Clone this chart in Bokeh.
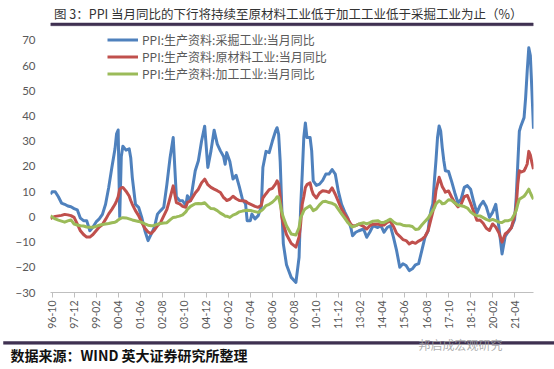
import math
from bokeh.plotting import figure
from bokeh.layouts import column
from bokeh.models import Range1d, FixedTicker, Legend, LegendItem
from bokeh.core.properties import value
from bokeh.embed import file_html
from bokeh.resources import INLINE

# months since 1996-10
month_offset = [-1, 0, 2, 4, 6, 8, 10, 12, 14, 16, 18, 20, 22, 24, 26, 28, 30, 32, 34, 36, 38, 40, 41, 42, 43, 44, 45, 47,
                49, 50, 51, 53, 55, 57, 59, 61, 63, 65, 67, 69, 71, 73, 75, 77, 79, 81, 83, 85, 86, 88, 91, 93, 95, 97, 99,
                101, 103, 105, 107, 109, 110, 111, 113, 115, 117, 119, 121, 123, 124, 126, 127, 129, 131, 133, 134, 136,
                138, 140, 142, 143, 144, 145, 146, 147, 149, 152, 155, 157, 158, 159, 160, 161, 162, 164, 165, 166, 168,
                170, 172, 174, 176, 178, 180, 182, 184, 186, 188, 190, 191, 193, 195, 198, 200, 202, 204, 207, 209, 211,
                213, 215, 217, 219, 221, 223, 225, 227, 229, 231, 233, 235, 237, 239, 240, 241, 242, 243, 244, 245, 246,
                247, 248, 249, 250, 252, 254, 256, 258, 260, 262, 264, 266, 268, 270, 272, 274, 276, 278, 280, 282, 284,
                286, 288, 290, 292, 294, 295, 296, 297, 298, 300, 301, 302, 303, 304, 305, 306]

mining = [9, 10, 10, 8, 5.5, 5, 4.3, 4, 3.3, 2.8, -0.5, -1.5, -1.5, -5.5, -4, -2, -0.8, 1, 5, 11.7, 19.6, 27, 33, 34.5,
          0, 24, 28, 26.5, 27, 23.5, 15.6, 5, 3.8, -0.2, -5.5, -9.4, -6.8, -4.2, 1.1, 2.5, 3.8, 13, 23.5, 31.5, 8, 6.5,
          6.4, 4.4, 8.4, 6.4, 18.3, 22.3, 30, 36, 19.6, 26.2, 34.4, 28.9, 26.2, 24, 20.9, 25.5, 22, 15, 16.5, 12, 7,
          5.1, -1.5, -1.5, 1.1, -0.8, 0.5, 4, 19.6, 26, 25.5, 30, 34, 35.4, 32.8, 22, 3.8, -10.7, -19, -24, -26, -16,
          3.8, 17, 31.5, 37.3, 31.5, 31.5, 26.3, 14.3, 12.5, 13, 14.5, 17, 17, 18.8, 17, 10, 5, 2, -0.5, -4.5, -7.5,
          -6.1, -5.5, -4.8, -8.1, -6, -3.5, -4.2, -3.5, -6.1, -4.2, -3.5, -8.1, -13.4, -20, -18.6, -19.3, -21.3, -20.6,
          -19, -18.5, -13.4, -8.1, -5.5, -0.2, 3, 5.1, 14.3, 22.3, 31.5, 36.1, 34.1, 27.5, 22.3, 18.3, 18, 14, 9.5, 5.5,
          7, 11.7, 12.4, 11, 6, 1.5, 4.5, 6.2, 4, -0.2, 1.8, 5, -4, -14.7, -7.8, -5.8, -4.2, -1, 7.7, 20.9, 34, 36.1,
          39.4, 47.3, 57.9, 67.1, 64, 50, 35]

raw_material = [-0.8, -0.3, 0.2, 0.4, 0.6, 1.0, 0.8, 0.5, -0.2, -2.8, -5.5, -7, -8, -8, -7, -5.5, -4, -3, -1, 1.2, 3,
                5, 6.4, 8, 11, 11.5, 11.7, 10.2, 8.3, 6.5, 5, 2.5, 0.5, -2.2, -4.5, -6, -6.6, -5.3, -3.5, -2.2, 0.4, 3,
                7.5, 12.3, 5.7, 5.2, 4.2, 3.8, 5.7, 6.4, 9.5, 11, 13.5, 15, 12.8, 11.7, 11, 10.4, 9.7, 7.7, 7.2, 6.5,
                7, 8.2, 7.2, 6.5, 6.4, 6.2, 5.7, 5.1, 4.8, 4.2, 3.8, 4.6, 7.5, 9.2, 10.8, 11.3, 13, 14.3, 13.2, 8, 0,
                -2.8, -7, -10.5, -12, -8, -2.8, 5, 8, 11.7, 12.8, 13.5, 10.8, 9, 7.5, 9.5, 10.4, 10.2, 9.7, 11.5, 9, 6,
                3.1, 1, -0.8, -3, -3.5, -3.5, -2.9, -3.8, -4.8, -3.5, -2.9, -2.8, -3.3, -3.2, -2.2, -1.7, -3.8, -6.5,
                -7.7, -9, -9.4, -10.7, -10, -10.5, -9.6, -8.9, -7.8, -5.5, -3, -0.5, 2, 5, 10.4, 13, 15.7, 14, 12, 11,
                9.8, 10.3, 7.8, 5.6, 4, 5, 8, 8.5, 5.5, 2, -1.3, -1.2, -2.5, -4.5, -5.4, -2.8, -4, -6.3, -10, -6.8,
                -5.8, -4.2, 0.5, 4, 13, 18.3, 17.8, 18.3, 19.5, 21, 26, 24.5, 21.5, 19]

processing = [0.5, 0, -0.8, -1.3, -1.7, -2.1, -1.6, -1.2, -2.8, -3.2, -3.5, -3.6, -4, -4.1, -4.1, -3.8, -3.3, -3, -2.8,
              -2.6, -2.3, -2.1, -1.8, -1.2, -0.8, -0.5, -0.3, -0.4, -0.8, -1, -1.2, -1.5, -1.8, -2.2, -2.8, -3.3, -3.5,
              -3.4, -2.9, -2.6, -2.4, -2.3, -1.2, -0.2, 0, 0.3, 0.8, 2, 3, 4.2, 5.2, 5.3, 5.2, 5.6, 4.3, 3.3, 3.2, 2.5,
              1.5, 0.8, 0.3, 0.3, -0.2, 0.7, 1.2, 2, 2.3, 2.5, 2.6, 2.5, 2.4, 2.1, 1.8, 2.5, 3, 4.5, 5, 5.8, 7, 8, 7.8,
              5, 2, -0.2, -3.5, -6.8, -7.2, -4.2, -0.2, 1, 2.5, 3.2, 3.6, 4.4, 3.5, 2.5, 3.2, 4.8, 6, 6.2, 5.7, 5.4,
              4.8, 3, 1.2, -0.5, -2.3, -3.5, -4, -3.5, -2.8, -2.3, -2.8, -2.3, -1.7, -1.5, -2.2, -2.2, -1.6, -0.9, -2,
              -2.7, -2.8, -3.3, -3.5, -3.5, -3.8, -5, -4.8, -3.2, -1.8, -0.5, 0.5, 1.5, 2.6, 3.5, 5.1, 5.8, 6.4, 6,
              5.2, 5.3, 5.6, 6.8, 6.6, 5.5, 4.6, 4.4, 4.1, 3.5, 2, 1.0, 0.5, 0.4, -0.3, -1.0, -1.5, -1.0, -1.5, -2.1,
              -2.2, -1.5, -1.5, -1.0, 1.2, 2.5, 5, 7, 7.4, 8.2, 9, 10, 11, 9.5, 8.2, 7]

series_names = ["PPI:生产资料:采掘工业:当月同比",
                "PPI:生产资料:原材料工业:当月同比",
                "PPI:生产资料:加工工业:当月同比"]
series_colors = ["#4F81BD", "#C0504D", "#9BBB59"]

tick_months = [0, 14, 28, 42, 56, 70, 84, 98, 112, 126, 140, 154, 168, 182, 196, 210, 224, 238, 252, 266, 280, 294]
tick_labels = ["96-10", "97-12", "99-02", "00-04", "01-06", "02-08", "03-10", "04-12", "06-02", "07-04", "08-06",
               "09-08", "10-10", "11-12", "13-02", "14-04", "15-06", "16-08", "17-10", "18-12", "20-02", "21-04"]
y_ticks = [-30, -20, -10, 0, 10, 20, 30, 40, 50, 60, 70]

title_text = "图 3：PPI 当月同比的下行将持续至原材料工业低于加工工业低于采掘工业为止（%）"
source_text = "数据来源：WIND  英大证券研究所整理"
mark_text = "邦启成宏观研究"

W = 554
CJK_NAME = "Noto Sans CJK SC"
CJK = value(CJK_NAME)
PURPLE = "#3F3151"


def blank(height):
    f = figure(width=W, height=height, x_range=Range1d(0, W), y_range=Range1d(height, 0),
               output_backend="svg", toolbar_location=None, min_border=0,
               x_axis_location=None, y_axis_location=None)
    f.grid.visible = False
    f.outline_line_color = None
    return f


# header: title + purple rule
HH = 28
header = blank(HH)
header.quad(left=[0], right=[W], top=[22.5], bottom=[25.2], fill_color=PURPLE, line_color=PURPLE, line_width=0.5)
header.text(x=[4], y=[12.5], text=[title_text], text_font=CJK, text_font_size="12.5px",
            text_baseline="middle", text_align="left", text_color="#333333")

# main chart
p = figure(width=W, height=306, x_range=Range1d(-1, 306), y_range=Range1d(-30, 73.17),
           output_backend="svg", toolbar_location=None,
           min_border_left=50, min_border_right=21, min_border_top=4, min_border_bottom=42)
p.outline_line_color = None
p.grid.visible = False

renderers = []
for vals, col in zip([mining, raw_material, processing], series_colors):
    r = p.line(month_offset, vals, line_width=3, line_color=col, line_join="round")
    renderers.append(r)

legend = Legend(items=[LegendItem(label=n, renderers=[r]) for n, r in zip(series_names, renderers)],
                location=(57, 210), orientation="vertical",
                background_fill_alpha=0, border_line_color=None, padding=0, margin=0, spacing=-1,
                glyph_width=31, glyph_height=15, label_height=15, label_standoff=4,
                label_text_font=CJK_NAME, label_text_font_size="12px", label_text_line_height=1.0,
                label_text_color="#595959")
p.add_layout(legend)

xa = p.xaxis[0]
xa.ticker = FixedTicker(ticks=tick_months)
xa.major_label_overrides = {t: l for t, l in zip(tick_months, tick_labels)}
xa.major_label_orientation = math.pi / 2
xa.axis_line_color = "#BFBFBF"
xa.major_tick_line_color = "#BFBFBF"
xa.major_tick_out = 5
xa.major_tick_in = 0
xa.minor_tick_out = 0
xa.minor_tick_in = 0
xa.major_label_standoff = 3
xa.major_label_text_font = "Lato"
xa.major_label_text_font_size = "10.5px"
xa.major_label_text_color = "#595959"

ya = p.yaxis[0]
ya.ticker = FixedTicker(ticks=y_ticks)
ya.axis_line_color = None
ya.major_tick_line_color = None
ya.minor_tick_line_color = None
ya.major_label_standoff = 9
ya.major_label_text_font = "Lato"
ya.major_label_text_font_size = "11.5px"
ya.major_label_text_color = "#595959"

# footer: purple rule, watermark, source note
FH = 35
footer = blank(FH)
footer.quad(left=[3], right=[W], top=[7], bottom=[9.8], fill_color=PURPLE, line_color=PURPLE, line_width=0.5)
footer.text(x=[418], y=[9.5], text=[mark_text], text_font=CJK, text_font_size="12px",
            text_baseline="middle", text_align="left", text_color="#a0a0a0", text_alpha=0.85)
footer.text(x=[10], y=[20], text=[source_text], text_font=CJK, text_font_size="14px",
            text_font_style="bold", text_baseline="middle", text_align="left", text_color="#111111")

# the footer sits in its own nested column so that it keeps its own full-width frame
layout = column(header, p, column(footer, spacing=0), spacing=0)
open("out.html", "w").write(file_html(layout, INLINE))
